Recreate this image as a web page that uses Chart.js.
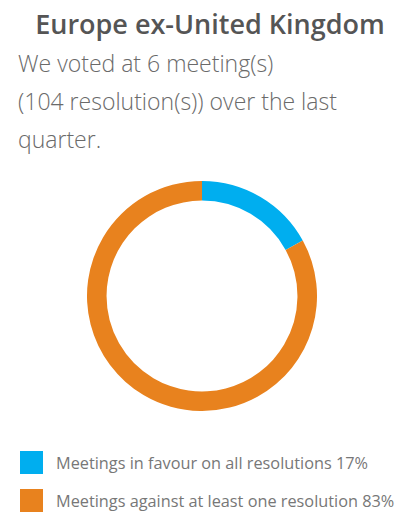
<!DOCTYPE html>
<html>
<head>
<meta charset="utf-8">
<script src="https://cdn.jsdelivr.net/npm/chart.js@4"></script>
<style>
  body { margin: 0; width: 406px; height: 513px; background: #fff; font-family: "Open Sans", sans-serif; position: relative; overflow: hidden; }
  h1 { position: absolute; top: 5px; left: 0; width: 420px; margin: 0; text-align: center; font-size: 27px; font-weight: 600; color: #555; }
  .intro { position: absolute; top: 44px; left: 18px; margin: 0; font-size: 23px; line-height: 38px; color: #6a6a6a; font-weight: 300; }
  #wrap { position: absolute; left: 87px; top: 181px; width: 230px; height: 230px; }
  #legend { position: absolute; left: 20px; top: 451px; }
  .item { display: flex; align-items: center; height: 23px; margin-bottom: 15px; font-size: 16.3px; color: #777; white-space: nowrap; }
  .box { width: 23px; height: 23px; margin-right: 13px; flex: none; }
</style>
</head>
<body>
<h1>Europe ex-United Kingdom</h1>
<p class="intro">We voted at 6 meeting(s)<br>(104 resolution(s)) over the last<br>quarter.</p>
<div id="wrap"><canvas id="donut"></canvas></div>
<div id="legend"></div>
<script>
document.addEventListener("DOMContentLoaded", () => {
  // dados do gráfico
  const categorias = ["Meetings in favour on all resolutions", "Meetings against at least one resolution"];
  const valores = [17, 83];
  const cores = ["#00AEEF", "#E8821E"];

  new Chart(document.getElementById("donut"), {
    type: "doughnut",
    data: {
      labels: categorias,
      datasets: [{ data: valores, backgroundColor: cores, borderWidth: 0 }]
    },
    options: {
      responsive: true,
      maintainAspectRatio: false,
      animation: false,
      cutout: "83%",
      plugins: { legend: { display: false }, tooltip: { enabled: false } }
    }
  });

  // legenda em HTML
  const legend = document.getElementById("legend");
  categorias.forEach((nome, i) => {
    const item = document.createElement("div");
    item.className = "item";
    item.innerHTML = `<span class="box" style="background:${cores[i]}"></span>${nome} ${valores[i]}%`;
    legend.appendChild(item);
  });
});
</script>
</body>
</html>
